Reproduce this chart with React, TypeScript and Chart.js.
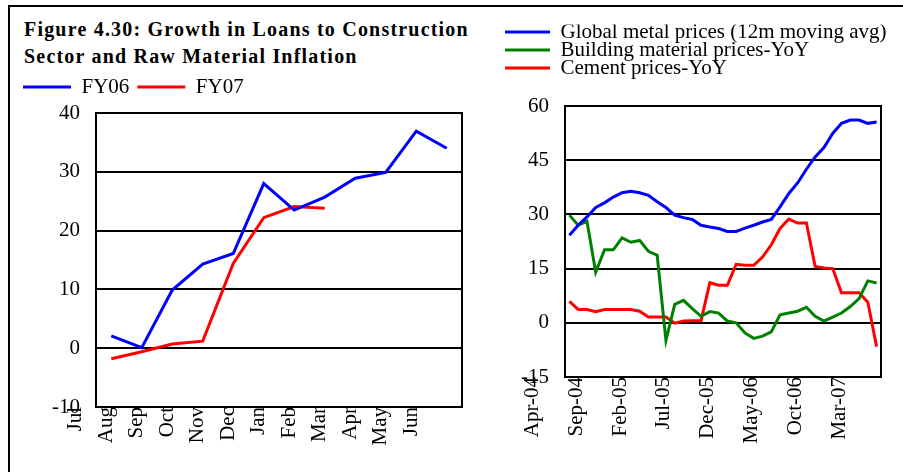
import React, { useEffect, useRef } from "react";
import { Chart, registerables } from "chart.js";

Chart.register(...registerables);

const SERIF = "'Liberation Serif', 'Times New Roman', serif";
Chart.defaults.font.family = SERIF;
Chart.defaults.font.size = 21;
Chart.defaults.color = "#000";

const MONTHS = ["Jan", "Feb", "Mar", "Apr", "May", "Jun", "Jul", "Aug", "Sep", "Oct", "Nov", "Dec"];

// ---------- Left panel: growth in loans to construction ----------
const fyMonths = ["Aug", "Sep", "Oct", "Nov", "Dec", "Jan", "Feb", "Mar", "Apr", "May", "Jun", "Jul"];
const fyTickLabels = ["Jul", "Aug", "Sep", "Oct", "Nov", "Dec", "Jan", "Feb", "Mar", "Apr", "May", "Jun"];
const fy06 = [2.1, 0.1, 9.9, 14.3, 16.1, 28.0, 23.5, 25.7, 28.9, 29.9, 36.9, 34.0];
const fy07 = [-1.8, -0.6, 0.7, 1.2, 14.4, 22.2, 24.1, 23.8];
const leftYMin = -10;
const leftYMax = 40;
const leftYStep = 10;

// ---------- Right panel: raw material inflation ----------
const rightMonths = [
  "Aug-04", "Sep-04", "Oct-04", "Nov-04", "Dec-04",
  "Jan-05", "Feb-05", "Mar-05", "Apr-05", "May-05", "Jun-05", "Jul-05", "Aug-05", "Sep-05", "Oct-05", "Nov-05", "Dec-05",
  "Jan-06", "Feb-06", "Mar-06", "Apr-06", "May-06", "Jun-06", "Jul-06", "Aug-06", "Sep-06", "Oct-06", "Nov-06", "Dec-06",
  "Jan-07", "Feb-07", "Mar-07", "Apr-07", "May-07", "Jun-07", "Jul-07",
];
const rightTickLabels = ["Apr-04", "Sep-04", "Feb-05", "Jul-05", "Dec-05", "May-06", "Oct-06", "Mar-07"];
const metalPrices = [
  24.2, 27.0, 29.3, 31.9, 33.2, 34.8, 36.0, 36.4, 36.0, 35.3, 33.5, 31.9,
  29.8, 29.1, 28.6, 27.0, 26.5, 26.1, 25.3, 25.3, 26.2, 27.0, 27.9, 28.6,
  32.1, 35.8, 38.7, 42.5, 45.9, 48.5, 52.4, 55.2, 56.1, 56.1, 55.2, 55.6,
];
const buildingPrices = [
  29.8, 27.0, 28.1, 14.0, 20.2, 20.2, 23.5, 22.3, 22.8, 19.8, 18.7, -4.9,
  5.1, 6.2, 3.9, 1.8, 3.1, 2.7, 0.5, 0.0, -2.8, -4.3, -3.7, -2.5,
  2.2, 2.7, 3.2, 4.3, 1.8, 0.5, 1.6, 2.7, 4.5, 6.7, 11.6, 11.0,
];
const cementPrices = [
  5.9, 3.7, 3.7, 3.1, 3.7, 3.7, 3.7, 3.7, 3.2, 1.6, 1.6, 1.6,
  -0.1, 0.5, 0.6, 0.6, 11.1, 10.4, 10.4, 16.2, 15.9, 15.9, 18.2, 21.6,
  26.1, 28.7, 27.6, 27.6, 15.6, 15.2, 15.0, 8.3, 8.3, 8.3, 5.7, -6.6,
];
const rightYMin = -15;
const rightYMax = 60;
const rightYStep = 15;

const titleLines = ["Figure 4.30: Growth in Loans to Construction", "Sector and Raw Material Inflation"];

// ---------- helpers ----------
const fiscalIndex = (m: string) => (MONTHS.indexOf(m) + 6) % 12; // Jul = 0
const monthNumber = (s: string) => {
  const [m, y] = s.split("-");
  return (2000 + Number(y)) * 12 + MONTHS.indexOf(m);
};
const leftTickPos = fyTickLabels.map((l) => fiscalIndex(l) - fiscalIndex(fyMonths[0]));
const rightTickPos = rightTickLabels.map((l) => monthNumber(l) - monthNumber(rightMonths[0]));

const toPoints = (arr: number[]) => arr.map((y, i) => ({ x: i, y }));

const lineLegendLabels = (chart: any) =>
  (Chart.defaults.plugins.legend.labels as any)
    .generateLabels(chart)
    .map((it: any) => ({ ...it, fillStyle: it.strokeStyle, lineWidth: 0 }));

const BLACK_BORDER = { display: true, color: "#000", width: 2 };

function lineDs(label: string, data: number[], color: string) {
  return {
    label,
    data: toPoints(data),
    borderColor: color,
    backgroundColor: color,
    borderWidth: 3,
    pointRadius: 0,
    tension: 0,
    fill: false,
  };
}

function makeConfig(opts: {
  datasets: any[];
  nCats: number;
  tickPos: number[];
  tickLabels: string[];
  yMin: number;
  yMax: number;
  yStep: number;
  padding: any;
  yWidth: number;
  yRightWidth: number;
  xHeight: number;
  spacer: number;
  legendPad: number;
  labelOffset: number;
}) {
  return {
    type: "line",
    data: { datasets: opts.datasets },
    options: {
      responsive: false,
      animation: false,
      events: [],
      layout: { padding: opts.padding, autoPadding: false },
      plugins: {
        title: { display: false },
        tooltip: { enabled: false },
        legend: {
          display: true,
          position: "top",
          align: "start",
          labels: {
            boxWidth: 48,
            boxHeight: 3,
            padding: opts.legendPad,
            font: { size: 21, family: SERIF },
            color: "#000",
            generateLabels: lineLegendLabels,
          },
        },
      },
      scales: {
        x: {
          type: "linear",
          position: "bottom",
          min: -0.5,
          max: opts.nCats - 0.5,
          afterBuildTicks: (s: any) => {
            s.ticks = opts.tickPos.map((v) => ({ value: v }));
          },
          afterFit: (s: any) => {
            s.height = opts.xHeight;
            s.paddingLeft = 0;
            s.paddingRight = 0;
          },
          grid: { display: false, drawTicks: false },
          border: BLACK_BORDER,
          ticks: {
            autoSkip: false,
            minRotation: 90,
            maxRotation: 90,
            padding: 0,
            labelOffset: opts.labelOffset,
            color: "#000",
            font: { size: 21, family: SERIF },
            callback: (_v: any, i: number) => opts.tickLabels[i],
          },
        },
        xTop: {
          type: "linear",
          position: "top",
          min: 0,
          max: 1,
          ticks: { display: false },
          grid: { display: false, drawTicks: false },
          border: BLACK_BORDER,
          afterFit: (s: any) => {
            s.height = opts.spacer;
          },
        },
        y: {
          type: "linear",
          position: "left",
          min: opts.yMin,
          max: opts.yMax,
          ticks: {
            stepSize: opts.yStep,
            padding: 16,
            color: "#000",
            font: { size: 21, family: SERIF },
          },
          grid: { color: "#000", lineWidth: 2, drawTicks: false },
          border: BLACK_BORDER,
          afterFit: (s: any) => {
            s.width = opts.yWidth;
            s.paddingTop = 0;
            s.paddingBottom = 0;
          },
        },
        yRight: {
          type: "linear",
          position: "right",
          min: 0,
          max: 1,
          ticks: { display: false },
          grid: { display: false, drawTicks: false },
          border: BLACK_BORDER,
          afterFit: (s: any) => {
            s.width = opts.yRightWidth;
          },
        },
      },
    },
  };
}

function ChartCanvas({ config, left, top, width, height }: any) {
  const ref = useRef<HTMLCanvasElement | null>(null);
  useEffect(() => {
    const chart = new Chart(ref.current as HTMLCanvasElement, config);
    return () => chart.destroy();
  }, []);
  return (
    <canvas
      ref={ref}
      width={width}
      height={height}
      style={{ position: "absolute", left, top, width, height, display: "block" }}
    />
  );
}

const leftConfig = makeConfig({
  datasets: [lineDs("FY06", fy06, "#0000FF"), lineDs("FY07", fy07, "#FF0000")],
  nCats: fyMonths.length,
  tickPos: leftTickPos,
  tickLabels: fyTickLabels,
  yMin: leftYMin,
  yMax: leftYMax,
  yStep: leftYStep,
  padding: { left: 5, top: 8.5, right: 2, bottom: 0 },
  yWidth: 81,
  yRightWidth: 8,
  xHeight: 65,
  spacer: 5.5,
  legendPad: 8,
  labelOffset: -5,
});

const rightConfig = makeConfig({
  datasets: [
    lineDs("Global metal prices (12m moving avg)", metalPrices, "#0000FF"),
    lineDs("Building material prices-YoY", buildingPrices, "#008000"),
    lineDs("Cement prices-YoY", cementPrices, "#FF0000"),
  ],
  nCats: rightMonths.length,
  tickPos: rightTickPos,
  tickLabels: rightTickLabels,
  yMin: rightYMin,
  yMax: rightYMax,
  yStep: rightYStep,
  padding: { left: 25, top: 24.5, right: 1, bottom: 0 },
  yWidth: 60,
  yRightWidth: 21,
  xHeight: 95,
  spacer: 17.5,
  legendPad: -3,
  labelOffset: -2,
});

export default function App() {
  return (
    <div
      style={{
        position: "fixed",
        left: 0,
        top: 0,
        width: 903,
        height: 472,
        overflow: "hidden",
        background: "#fff",
      }}
    >
      <div
        style={{
          position: "absolute",
          left: 8,
          top: 5,
          width: 900,
          height: 470,
          borderTop: "2px solid #000",
          borderLeft: "2px solid #000",
        }}
      />
      <div
        style={{
          position: "absolute",
          left: 24,
          top: 16,
          fontFamily: SERIF,
          fontWeight: "bold",
          fontSize: 20,
          lineHeight: "27px",
          letterSpacing: "1.2px",
          whiteSpace: "nowrap",
          color: "#000",
        }}
      >
        {titleLines.map((t) => (
          <div key={t}>{t}</div>
        ))}
      </div>
      <ChartCanvas config={leftConfig} left={10} top={60} width={462} height={412} />
      <ChartCanvas config={rightConfig} left={480} top={0} width={423} height={472} />
    </div>
  );
}
